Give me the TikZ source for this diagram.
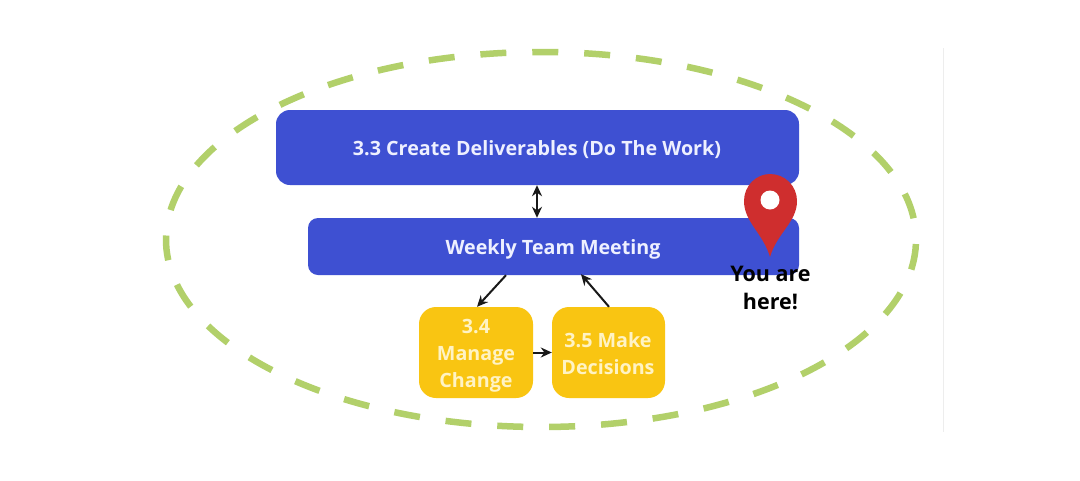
\documentclass[tikz,border=0pt]{standalone}
\usepackage{fontspec}
\setmainfont{Open Sans}
\usetikzlibrary{arrows.meta}
\definecolor{bluebox}{HTML}{3E50D2}
\definecolor{yellowbox}{HTML}{F9C512}
\definecolor{ringgreen}{HTML}{B2D06A}
\definecolor{pinred}{HTML}{CF2E2E}
\definecolor{yellowtext}{HTML}{FFF3C4}
\definecolor{bluetext}{HTML}{EEF0FF}
\tikzset{
  x=1pt,y=-1pt,
  bluenode/.style={fill=bluebox,inner sep=0pt,anchor=center},
  bluelabel/.style={text=bluetext,font=\fontsize{19.7}{24}\selectfont\bfseries},
  yellownode/.style={fill=yellowbox,rounded corners=17pt,inner sep=0pt,minimum width=114pt,minimum height=91pt},
  yellowlabel/.style={text=yellowtext,font=\fontsize{19.7}{26.8}\selectfont\bfseries,align=center},
  conn/.style={draw=black!90,line width=2pt,-{Stealth[length=11pt,width=10pt]}},
  conn2/.style={draw=black!90,line width=2pt,{Stealth[length=11pt,width=10pt]}-{Stealth[length=11pt,width=10pt]}},
}
\begin{document}
\begin{tikzpicture}
\useasboundingbox (0,0) rectangle (1080,480);
\fill[white] (0,0) rectangle (1080,480);
\draw[line width=0.6pt,black!7] (943,48) -- (943,432);
\draw[ringgreen,line width=6.5pt,dash pattern=on 26pt off 25.94pt,dash phase=22pt] (166,239.5) arc [start angle=180, delta angle=360, x radius=375, y radius=187.5];
\node[bluenode,rounded corners=14pt,minimum width=523pt,minimum height=75pt] (top) at (537.5,147.5) {};
\node[bluenode,rounded corners=10pt,minimum width=491pt,minimum height=57pt] (meet) at (553.5,246.5) {};
\node[bluelabel] (toplabel) at (537,150) {3.3 Create Deliverables (Do The Work)};
\node[bluelabel] (meetlabel) at (553,249) {Weekly Team Meeting};
\node[yellownode] (change) at (476,352.5) {};
\node[yellownode,minimum width=113pt] (decide) at (608.5,352.5) {};
\node[yellowlabel] (changelabel) at (476,355.5) {3.4\\Manage\\Change};
\node[yellowlabel] (decidelabel) at (608,353.5) {3.5 Make\\Decisions};
\coordinate (a1) at (top.south -| 537,0);
\coordinate (a2) at (meet.north -| 537,0);
\coordinate (b1) at ([xshift=-47.5pt]meet.south);
\coordinate (b2) at ([xshift=1pt]change.north);
\coordinate (c1) at ([xshift=0.5pt]decide.north);
\coordinate (c2) at ([xshift=27.5pt,yshift=1pt]meet.south);
\draw[conn2] (a1) -- (a2);
\draw[conn] (b1) -- (b2);
\draw[conn] (c1) -- (c2);
\draw[conn] (change.east) -- (decide.west);
\fill[pinred] (770,257) .. controls (763,233) and (744,222) .. (744,201)
  .. controls (744,186) and (756,174) .. (770,174)
  .. controls (785,174) and (797,186) .. (797,201)
  .. controls (797,222) and (777,233) .. (770,257) -- cycle;
\fill[white] (770,200) circle (9.5);
\node[text=black,font=\fontsize{21.5}{28}\selectfont\bfseries,align=center] (here) at (770.5,288) {You are\\here!};
\end{tikzpicture}
\end{document}
